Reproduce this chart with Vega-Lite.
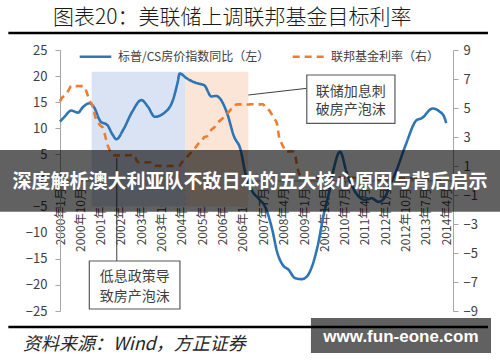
{
  "$schema": "https://vega.github.io/schema/vega-lite/v6.json",
  "width": 393,
  "height": 261,
  "autosize": "none",
  "padding": {"left": 60, "top": 50, "right": 47, "bottom": 51},
  "background": "#ffffff",
  "config": {
    "view": {"stroke": null},
    "font": "Noto Sans CJK SC",
    "axis": {"grid": false, "domainColor": "#A6A6A6", "tickColor": "#A6A6A6", "labelColor": "#404040", "labelFont": "Noto Sans CJK SC"}
  },
  "datasets": {
    "cs": [
      {"d": "2000-01-01", "v": 11.3}, {"d": "2000-03-01", "v": 12.2}, {"d": "2000-06-01", "v": 13.4}, {"d": "2000-09-01", "v": 13.0},
      {"d": "2000-11-01", "v": 14.0}, {"d": "2001-02-01", "v": 14.8}, {"d": "2001-04-01", "v": 14.1}, {"d": "2001-07-01", "v": 11.3},
      {"d": "2001-10-01", "v": 10.6}, {"d": "2001-12-01", "v": 9.0}, {"d": "2002-02-01", "v": 7.9}, {"d": "2002-05-01", "v": 9.7},
      {"d": "2002-09-01", "v": 13.2}, {"d": "2003-01-01", "v": 15.4}, {"d": "2003-04-01", "v": 14.1}, {"d": "2003-07-01", "v": 12.2},
      {"d": "2003-11-01", "v": 12.9}, {"d": "2004-03-01", "v": 15.4}, {"d": "2004-05-01", "v": 18.6}, {"d": "2004-06-01", "v": 20.5},
      {"d": "2004-09-01", "v": 19.6}, {"d": "2004-12-01", "v": 18.9}, {"d": "2005-03-01", "v": 18.5}, {"d": "2005-05-01", "v": 18.2},
      {"d": "2005-08-01", "v": 16.1}, {"d": "2005-10-01", "v": 16.2}, {"d": "2005-12-01", "v": 15.6}, {"d": "2006-03-01", "v": 12.9},
      {"d": "2006-06-01", "v": 8.5}, {"d": "2006-09-01", "v": 5.8}, {"d": "2006-11-01", "v": 1.5}, {"d": "2007-02-01", "v": -2.0},
      {"d": "2007-05-01", "v": -3.5}, {"d": "2007-08-01", "v": -5.2}, {"d": "2007-11-01", "v": -9.5}, {"d": "2008-01-01", "v": -13.5},
      {"d": "2008-04-01", "v": -16.4}, {"d": "2008-06-01", "v": -17.0}, {"d": "2008-09-01", "v": -18.7}, {"d": "2008-12-01", "v": -18.9},
      {"d": "2009-02-01", "v": -18.5}, {"d": "2009-04-01", "v": -17.1}, {"d": "2009-07-01", "v": -12.7}, {"d": "2009-10-01", "v": -6.0},
      {"d": "2009-12-01", "v": -2.5}, {"d": "2010-02-01", "v": 2.0}, {"d": "2010-05-01", "v": 5.5}, {"d": "2010-08-01", "v": 1.4},
      {"d": "2010-12-01", "v": -2.4}, {"d": "2011-04-01", "v": -3.7}, {"d": "2011-07-01", "v": -3.4}, {"d": "2011-10-01", "v": -4.1},
      {"d": "2012-01-01", "v": -3.1}, {"d": "2012-03-01", "v": -1.0}, {"d": "2012-06-01", "v": 2.0}, {"d": "2012-10-01", "v": 6.8},
      {"d": "2013-03-01", "v": 11.6}, {"d": "2013-05-01", "v": 11.9}, {"d": "2013-10-01", "v": 13.8}, {"d": "2014-01-01", "v": 13.2},
      {"d": "2014-03-01", "v": 12.3}, {"d": "2014-04-01", "v": 11.0}
    ],
    "ffr": [
      {"d": "2000-01-01", "r": 5.45}, {"d": "2000-02-01", "r": 5.73}, {"d": "2000-03-01", "r": 5.85}, {"d": "2000-04-01", "r": 6.02},
      {"d": "2000-05-01", "r": 6.27}, {"d": "2000-06-01", "r": 6.53}, {"d": "2000-07-01", "r": 6.54}, {"d": "2000-08-01", "r": 6.5},
      {"d": "2000-09-01", "r": 6.52}, {"d": "2000-10-01", "r": 6.51}, {"d": "2000-11-01", "r": 6.51}, {"d": "2000-12-01", "r": 6.4},
      {"d": "2001-01-01", "r": 5.98}, {"d": "2001-02-01", "r": 5.49}, {"d": "2001-03-01", "r": 5.31}, {"d": "2001-04-01", "r": 4.8},
      {"d": "2001-05-01", "r": 4.21}, {"d": "2001-06-01", "r": 3.97}, {"d": "2001-07-01", "r": 3.77}, {"d": "2001-08-01", "r": 3.65},
      {"d": "2001-09-01", "r": 3.07}, {"d": "2001-10-01", "r": 2.49}, {"d": "2001-11-01", "r": 2.09}, {"d": "2001-12-01", "r": 1.82},
      {"d": "2002-01-01", "r": 1.73}, {"d": "2002-02-01", "r": 1.74}, {"d": "2002-03-01", "r": 1.73}, {"d": "2002-04-01", "r": 1.75},
      {"d": "2002-05-01", "r": 1.75}, {"d": "2002-06-01", "r": 1.75}, {"d": "2002-07-01", "r": 1.73}, {"d": "2002-08-01", "r": 1.74},
      {"d": "2002-09-01", "r": 1.75}, {"d": "2002-10-01", "r": 1.75}, {"d": "2002-11-01", "r": 1.34}, {"d": "2002-12-01", "r": 1.24},
      {"d": "2003-01-01", "r": 1.24}, {"d": "2003-02-01", "r": 1.26}, {"d": "2003-03-01", "r": 1.25}, {"d": "2003-04-01", "r": 1.26},
      {"d": "2003-05-01", "r": 1.26}, {"d": "2003-06-01", "r": 1.22}, {"d": "2003-07-01", "r": 1.01}, {"d": "2003-08-01", "r": 1.03},
      {"d": "2003-09-01", "r": 1.01}, {"d": "2003-10-01", "r": 1.01}, {"d": "2003-11-01", "r": 1.0}, {"d": "2003-12-01", "r": 0.98},
      {"d": "2004-01-01", "r": 1.0}, {"d": "2004-02-01", "r": 1.01}, {"d": "2004-03-01", "r": 1.0}, {"d": "2004-04-01", "r": 1.0},
      {"d": "2004-05-01", "r": 1.0}, {"d": "2004-06-01", "r": 1.03}, {"d": "2004-07-01", "r": 1.26}, {"d": "2004-08-01", "r": 1.43},
      {"d": "2004-09-01", "r": 1.61}, {"d": "2004-10-01", "r": 1.76}, {"d": "2004-11-01", "r": 1.93}, {"d": "2004-12-01", "r": 2.16},
      {"d": "2005-01-01", "r": 2.28}, {"d": "2005-02-01", "r": 2.5}, {"d": "2005-03-01", "r": 2.63}, {"d": "2005-04-01", "r": 2.79},
      {"d": "2005-05-01", "r": 3.0}, {"d": "2005-06-01", "r": 3.04}, {"d": "2005-07-01", "r": 3.26}, {"d": "2005-08-01", "r": 3.5},
      {"d": "2005-09-01", "r": 3.62}, {"d": "2005-10-01", "r": 3.78}, {"d": "2005-11-01", "r": 4.0}, {"d": "2005-12-01", "r": 4.16},
      {"d": "2006-01-01", "r": 4.29}, {"d": "2006-02-01", "r": 4.49}, {"d": "2006-03-01", "r": 4.59}, {"d": "2006-04-01", "r": 4.79},
      {"d": "2006-05-01", "r": 4.94}, {"d": "2006-06-01", "r": 4.99}, {"d": "2006-07-01", "r": 5.24}, {"d": "2006-08-01", "r": 5.25},
      {"d": "2006-09-01", "r": 5.25}, {"d": "2006-10-01", "r": 5.25}, {"d": "2006-11-01", "r": 5.25}, {"d": "2006-12-01", "r": 5.24},
      {"d": "2007-01-01", "r": 5.25}, {"d": "2007-02-01", "r": 5.26}, {"d": "2007-03-01", "r": 5.26}, {"d": "2007-04-01", "r": 5.25},
      {"d": "2007-05-01", "r": 5.25}, {"d": "2007-06-01", "r": 5.25}, {"d": "2007-07-01", "r": 5.26}, {"d": "2007-08-01", "r": 5.02},
      {"d": "2007-09-01", "r": 4.94}, {"d": "2007-10-01", "r": 4.76}, {"d": "2007-11-01", "r": 4.49}, {"d": "2007-12-01", "r": 4.24},
      {"d": "2008-01-01", "r": 3.94}, {"d": "2008-02-01", "r": 2.98}, {"d": "2008-03-01", "r": 2.61}, {"d": "2008-04-01", "r": 2.28},
      {"d": "2008-05-01", "r": 1.98}, {"d": "2008-06-01", "r": 2.0}, {"d": "2008-07-01", "r": 2.01}, {"d": "2008-08-01", "r": 2.0},
      {"d": "2008-09-01", "r": 1.81}, {"d": "2008-10-01", "r": 0.97}, {"d": "2008-11-01", "r": 0.39}, {"d": "2008-12-01", "r": 0.16},
      {"d": "2009-01-01", "r": 0.15}, {"d": "2009-02-01", "r": 0.22}, {"d": "2009-03-01", "r": 0.18}, {"d": "2009-04-01", "r": 0.15},
      {"d": "2009-05-01", "r": 0.18}, {"d": "2009-06-01", "r": 0.21}, {"d": "2009-07-01", "r": 0.16}, {"d": "2009-08-01", "r": 0.16},
      {"d": "2009-09-01", "r": 0.15}, {"d": "2009-10-01", "r": 0.12}, {"d": "2009-11-01", "r": 0.12}, {"d": "2009-12-01", "r": 0.12},
      {"d": "2010-01-01", "r": 0.11}, {"d": "2010-02-01", "r": 0.13}, {"d": "2010-03-01", "r": 0.16}, {"d": "2010-04-01", "r": 0.2},
      {"d": "2010-05-01", "r": 0.2}, {"d": "2010-06-01", "r": 0.18}, {"d": "2010-07-01", "r": 0.18}, {"d": "2010-08-01", "r": 0.19},
      {"d": "2010-09-01", "r": 0.19}, {"d": "2010-10-01", "r": 0.19}, {"d": "2010-11-01", "r": 0.19}, {"d": "2010-12-01", "r": 0.18},
      {"d": "2011-01-01", "r": 0.17}, {"d": "2011-02-01", "r": 0.16}, {"d": "2011-03-01", "r": 0.14}, {"d": "2011-04-01", "r": 0.1},
      {"d": "2011-05-01", "r": 0.09}, {"d": "2011-06-01", "r": 0.09}, {"d": "2011-07-01", "r": 0.07}, {"d": "2011-08-01", "r": 0.1},
      {"d": "2011-09-01", "r": 0.08}, {"d": "2011-10-01", "r": 0.07}, {"d": "2011-11-01", "r": 0.08}, {"d": "2011-12-01", "r": 0.07},
      {"d": "2012-01-01", "r": 0.08}, {"d": "2012-02-01", "r": 0.1}, {"d": "2012-03-01", "r": 0.13}, {"d": "2012-04-01", "r": 0.14},
      {"d": "2012-05-01", "r": 0.16}, {"d": "2012-06-01", "r": 0.16}, {"d": "2012-07-01", "r": 0.16}, {"d": "2012-08-01", "r": 0.13},
      {"d": "2012-09-01", "r": 0.14}, {"d": "2012-10-01", "r": 0.16}, {"d": "2012-11-01", "r": 0.16}, {"d": "2012-12-01", "r": 0.16},
      {"d": "2013-01-01", "r": 0.14}, {"d": "2013-02-01", "r": 0.15}, {"d": "2013-03-01", "r": 0.14}, {"d": "2013-04-01", "r": 0.15},
      {"d": "2013-05-01", "r": 0.11}, {"d": "2013-06-01", "r": 0.09}, {"d": "2013-07-01", "r": 0.09}, {"d": "2013-08-01", "r": 0.08},
      {"d": "2013-09-01", "r": 0.08}, {"d": "2013-10-01", "r": 0.09}, {"d": "2013-11-01", "r": 0.08}, {"d": "2013-12-01", "r": 0.09},
      {"d": "2014-01-01", "r": 0.07}, {"d": "2014-02-01", "r": 0.07}, {"d": "2014-03-01", "r": 0.08}, {"d": "2014-04-01", "r": 0.09}
    ],
    "shade": [
      {"k": "a", "d": "2001-03-02", "d2": "2004-08-20", "v": 20.84, "v2": -5},
      {"k": "b", "d": "2004-08-20", "d2": "2006-12-12", "v": 20.84, "v2": -5}
    ],
    "links": [
      {"d": "2002-02-04", "d2": "2002-02-04", "v": 4.3, "v2": -15.42},
      {"d": "2006-12-13", "d2": "2009-02-07", "v": 16.38, "v2": 17.66}
    ],
    "boxes": [
      {"d": "2001-01-30", "d2": "2004-06-04", "v": -15.42, "v2": -24.62},
      {"d": "2009-02-07", "d2": "2012-05-10", "v": 20.21, "v2": 10.96}
    ],
    "boxtext": [
      {"d": "2002-10-04", "v": -18.43, "t": "低息政策导"},
      {"d": "2002-10-04", "v": -22.26, "t": "致房产泡沫"},
      {"d": "2010-09-21", "v": 17.01, "t": "联储加息刺"},
      {"d": "2010-09-21", "v": 13.51, "t": "破房产泡沫"}
    ],
    "hrules": [
      {"d": "1998-02-04", "d2": "2015-10-15", "r": 10.172},
      {"d": "1998-02-04", "d2": "2015-10-15", "r": -10.103}
    ],
    "title": [{"d": "1999-09-28", "r": 11.2, "t": "图表20：美联储上调联邦基金目标利率"}],
    "source": [{"d": "1998-08-19", "r": -11.345, "t": "资料来源：Wind，方正证券"}],
    "banner": [{"d": "1997-01-01", "d2": "2017-01-01", "r": 2.10, "r2": -2.15}],
    "bannertext": [{"d": "2007-01-04", "r": -0.103, "t": "深度解析澳大利亚队不敌日本的五大核心原因与背后启示"}],
    "wm": [{"d": "2009-04-04", "d2": "2015-11-25", "r": -9.483, "r2": -11.897}],
    "wmtext": [{"d": "2012-07-30", "r": -10.76, "t": "www.fun-eone.com"}]
  },
  "encoding": {
    "x": {
      "field": "d",
      "type": "temporal",
      "scale": {"type": "utc", "nice": false, "domain": [{"year": 2000, "month": 1, "date": 1, "utc": true}, {"year": 2014, "month": 7, "date": 1, "utc": true}]},
      "axis": {
        "title": null,
        "offset": -130.5,
        "format": "%Y年%-m月",
        "labelAngle": 270,
        "labelFontSize": 12,
        "labelPadding": 3,
        "tickSize": 4,
        "labelOverlap": false,
        "labelFlush": false,
        "labelBound": false,
        "values": [
          {"year": 2000, "month": 1, "date": 1, "utc": true}, {"year": 2000, "month": 10, "date": 1, "utc": true},
          {"year": 2001, "month": 7, "date": 1, "utc": true}, {"year": 2002, "month": 4, "date": 1, "utc": true},
          {"year": 2003, "month": 1, "date": 1, "utc": true}, {"year": 2003, "month": 10, "date": 1, "utc": true},
          {"year": 2004, "month": 7, "date": 1, "utc": true}, {"year": 2005, "month": 4, "date": 1, "utc": true},
          {"year": 2006, "month": 1, "date": 1, "utc": true}, {"year": 2006, "month": 10, "date": 1, "utc": true},
          {"year": 2007, "month": 7, "date": 1, "utc": true}, {"year": 2008, "month": 4, "date": 1, "utc": true},
          {"year": 2009, "month": 1, "date": 1, "utc": true}, {"year": 2009, "month": 10, "date": 1, "utc": true},
          {"year": 2010, "month": 7, "date": 1, "utc": true}, {"year": 2011, "month": 4, "date": 1, "utc": true},
          {"year": 2012, "month": 1, "date": 1, "utc": true}, {"year": 2012, "month": 10, "date": 1, "utc": true},
          {"year": 2013, "month": 7, "date": 1, "utc": true}, {"year": 2014, "month": 4, "date": 1, "utc": true}
        ]
      }
    }
  },
  "layer": [
    {
      "encoding": {
        "y": {
          "field": "v",
          "type": "quantitative",
          "scale": {"domain": [-25, 25], "nice": false, "zero": false},
          "axis": {"title": null, "orient": "left", "values": [-25, -20, -15, -10, -5, 0, 5, 10, 15, 20, 25], "tickSize": 5, "labelPadding": 8, "labelFontSize": 13}
        }
      },
      "layer": [
        {
          "data": {"name": "shade"},
          "transform": [{"filter": "datum.k === 'a'"}],
          "mark": {"type": "rect", "fill": "#DAE3F3"},
          "encoding": {"x2": {"field": "d2"}, "y2": {"field": "v2"}}
        },
        {
          "data": {"name": "shade"},
          "transform": [{"filter": "datum.k === 'b'"}],
          "mark": {"type": "rect", "fill": "#FBE5D6"},
          "encoding": {"x2": {"field": "d2"}, "y2": {"field": "v2"}}
        },
        {
          "data": {"name": "cs"},
          "mark": {"type": "line", "interpolate": "monotone", "strokeWidth": 2.6},
          "encoding": {
            "color": {
              "datum": "标普/CS房价指数同比（左）",
              "type": "nominal",
              "scale": {"domain": ["标普/CS房价指数同比（左）", "联邦基金利率（右）"], "range": ["#2E75B6", "#ED7D31"]},
              "legend": {"orient": "none", "legendX": 18, "legendY": -11, "direction": "horizontal", "title": null, "symbolType": "stroke", "symbolSize": 1000, "symbolStrokeWidth": 2.6, "labelFontSize": 12, "labelColor": "#404040", "labelOffset": 5, "columnPadding": 17, "padding": 0}
            },
            "strokeDash": {
              "datum": "标普/CS房价指数同比（左）",
              "type": "nominal",
              "scale": {"domain": ["标普/CS房价指数同比（左）", "联邦基金利率（右）"], "range": [[1, 0], [7, 5]]},
              "legend": {"orient": "none", "legendX": 18, "legendY": -11, "direction": "horizontal", "title": null, "symbolType": "stroke", "symbolSize": 1000, "symbolStrokeWidth": 2.6, "labelFontSize": 12, "labelColor": "#404040", "labelOffset": 5, "columnPadding": 17, "padding": 0}
            }
          }
        },
        {
          "data": {"name": "links"},
          "mark": {"type": "rule", "color": "#404040", "strokeWidth": 1},
          "encoding": {"x2": {"field": "d2"}, "y2": {"field": "v2"}}
        },
        {
          "data": {"name": "boxes"},
          "mark": {"type": "rect", "fill": "#ffffff", "stroke": "#595959", "strokeWidth": 1.2},
          "encoding": {"x2": {"field": "d2"}, "y2": {"field": "v2"}}
        },
        {
          "data": {"name": "boxtext"},
          "mark": {"type": "text", "fontSize": 14, "color": "#404040", "align": "center", "baseline": "middle"},
          "encoding": {"text": {"field": "t"}}
        }
      ]
    },
    {
      "encoding": {
        "y": {
          "field": "r",
          "type": "quantitative",
          "scale": {"domain": [-9, 9], "nice": false, "zero": false},
          "axis": {"title": null, "orient": "right", "values": [-9, -7, -5, -3, -1, 1, 3, 5, 7, 9], "tickSize": 5, "labelPadding": 5, "labelFontSize": 13}
        }
      },
      "layer": [
        {
          "data": {"name": "ffr"},
          "mark": {"type": "line", "interpolate": "monotone", "strokeWidth": 2.6},
          "encoding": {
            "color": {
              "datum": "联邦基金利率（右）",
              "type": "nominal",
              "scale": {"domain": ["标普/CS房价指数同比（左）", "联邦基金利率（右）"], "range": ["#2E75B6", "#ED7D31"]},
              "legend": {"orient": "none", "legendX": 18, "legendY": -11, "direction": "horizontal", "title": null, "symbolType": "stroke", "symbolSize": 1000, "symbolStrokeWidth": 2.6, "labelFontSize": 12, "labelColor": "#404040", "labelOffset": 5, "columnPadding": 17, "padding": 0}
            },
            "strokeDash": {
              "datum": "联邦基金利率（右）",
              "type": "nominal",
              "scale": {"domain": ["标普/CS房价指数同比（左）", "联邦基金利率（右）"], "range": [[1, 0], [7, 5]]},
              "legend": {"orient": "none", "legendX": 18, "legendY": -11, "direction": "horizontal", "title": null, "symbolType": "stroke", "symbolSize": 1000, "symbolStrokeWidth": 2.6, "labelFontSize": 12, "labelColor": "#404040", "labelOffset": 5, "columnPadding": 17, "padding": 0}
            }
          }
        },
        {
          "data": {"name": "hrules"},
          "mark": {"type": "rule", "color": "#000000", "strokeWidth": 2.6},
          "encoding": {"x2": {"field": "d2"}}
        },
        {
          "data": {"name": "title"},
          "mark": {"type": "text", "fontSize": 21, "fontWeight": 300, "color": "#1a1a1a", "align": "left", "baseline": "middle"},
          "encoding": {"text": {"field": "t"}}
        },
        {
          "data": {"name": "source"},
          "mark": {"type": "text", "fontSize": 18, "fontStyle": "italic", "color": "#262626", "align": "left", "baseline": "middle"},
          "encoding": {"text": {"field": "t"}}
        },
        {
          "data": {"name": "banner"},
          "mark": {"type": "rect", "fill": "#000000", "opacity": 0.62},
          "encoding": {"x2": {"field": "d2"}, "y2": {"field": "r2"}}
        },
        {
          "data": {"name": "bannertext"},
          "mark": {"type": "text", "fontSize": 19, "fontWeight": "bold", "color": "#ffffff", "align": "center", "baseline": "middle"},
          "encoding": {"text": {"field": "t"}}
        },
        {
          "data": {"name": "wm"},
          "mark": {"type": "rect", "fill": "#000000", "opacity": 0.62},
          "encoding": {"x2": {"field": "d2"}, "y2": {"field": "r2"}}
        },
        {
          "data": {"name": "wmtext"},
          "mark": {"type": "text", "fontSize": 17, "fontWeight": "bold", "font": "Liberation Sans", "color": "#ffffff", "align": "center", "baseline": "middle"},
          "encoding": {"text": {"field": "t"}}
        }
      ]
    }
  ],
  "resolve": {"scale": {"y": "independent"}}
}
